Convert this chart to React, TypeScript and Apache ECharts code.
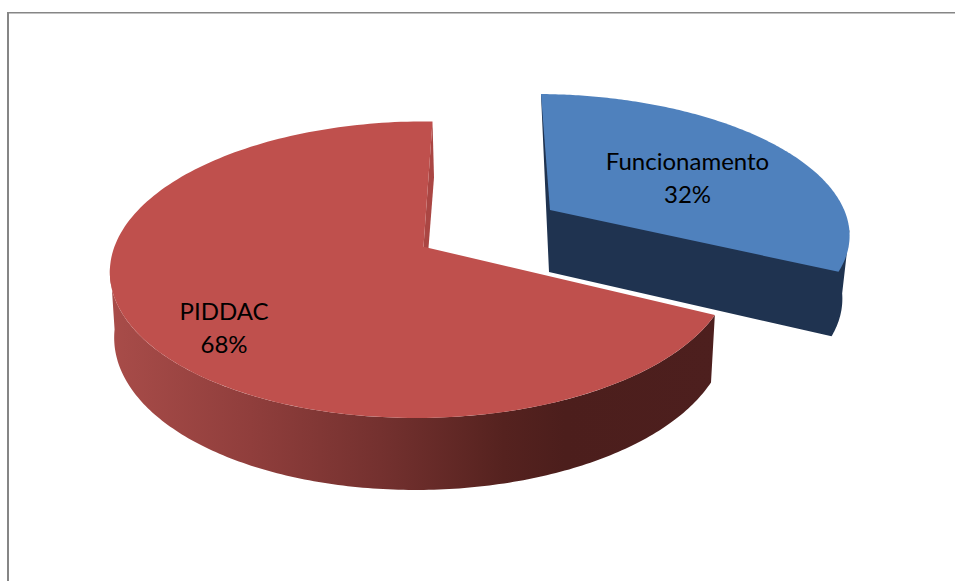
import React, { useEffect, useRef } from "react";
import * as echarts from "echarts";

const categories = ["Funcionamento", "PIDDAC"];
const percentValues = [32, 68];

const TOP_COLORS = ["#4f81bd", "#bf504d"];
const BLUE_WALL = "#1f3350";
const RED_SLIVER = "#aa4643";
const FONT = "Lato, Carlito, Calibri, sans-serif";

// Perspective layout of each exploded slice on the page.
type View = {
  ox: number; oy: number; a: number; b: number; c: number; d: number; p: number; q: number;
  vx: number; k: number; d0: number; d1: number; farShift: number | null;
  labelX: number; labelY: number;
};
const VIEWS: View[] = [
  { ox: 550, oy: 210, a: 295, b: -10.3, c: 132.2, d: 2, p: 0.14, q: 0, vx: 502, k: 0.0208, d0: 62, d1: 6, farShift: null, labelX: 687.5, labelY: 177 },
  { ox: 423.5, oy: 246.7, a: 306.8, b: 10.4, c: 144.7, d: 2.7, p: 0.155, q: 0.004, vx: 430, k: 0.0135, d0: 64, d1: 8, farShift: 1.5, labelX: 224, labelY: 327 },
];

const top = (v: View, t: number): number[] => {
  const X = Math.sin(t), Y = Math.cos(t);
  const w = 1 + v.p * Y + v.q * X;
  return [v.ox + (v.a * X + v.b * Y) / w, v.oy + (-v.c * Y + v.d * X) / w];
};
const bottom = (v: View, t: number): number[] => {
  const [x, y] = top(v, t);
  return [x + (v.vx - x) * v.k, y + v.d0 - v.d1 * Math.cos(t)];
};
const arc = (fn: (t: number) => number[], from: number, to: number): number[][] => {
  const out: number[][] = [];
  const n = 180;
  for (let i = 0; i <= n; i++) out.push(fn(from + ((to - from) * i) / n));
  return out;
};

const renderItem = (params: any, api: any) => {
  const i = params.dataIndex;
  const total = percentValues.reduce((s, x) => s + x, 0);
  const start = (percentValues.slice(0, i).reduce((s, x) => s + x, 0) / total) * Math.PI * 2;
  const end = start + (api.value(0) / total) * Math.PI * 2;
  const v = VIEWS[i];
  const apexT = [v.ox, v.oy];
  const apexB = [v.ox + (v.vx - v.ox) * v.k, v.oy + v.d0];
  const children: any[] = [];
  const poly = (points: number[][], fill: any) =>
    children.push({ type: "polygon", shape: { points }, style: { fill, stroke: "none" } });

  if (i === 0) {
    const farT = top(v, start);
    const from = start + (end - start) * 0.85;
    poly([farT, apexB, ...arc((t) => bottom(v, t), end, from).slice(0, 181), top(v, from)], BLUE_WALL);
  } else {
    const farT = top(v, end);
    const farB = [farT[0] + (v.farShift as number), farT[1] + v.d0 - v.d1];
    poly([farT, farB, apexB, apexT], RED_SLIVER);
    const wallFill = new echarts.graphic.LinearGradient(
      112, 0, 715, 0,
      [
        { offset: 0, color: "#a84c49" },
        { offset: 0.23, color: "#903e3c" },
        { offset: 0.46, color: "#72302e" },
        { offset: 0.65, color: "#55221f" },
        { offset: 0.75, color: "#4c1e1c" },
        { offset: 1, color: "#4d1f1e" },
      ],
      true
    );
    const to = start + (end - start) * 0.6;
    poly([...arc((t) => top(v, t), start, to), ...arc((t) => bottom(v, t), start, to).reverse()], wallFill);
  }
  poly([apexT, ...arc((t) => top(v, t), start, end)], TOP_COLORS[i]);
  children.push({
    type: "text",
    x: v.labelX,
    y: v.labelY,
    style: {
      text: `${categories[i]}\n${api.value(0)}%`,
      fill: "#000000",
      font: `24px ${FONT}`,
      align: "center",
      verticalAlign: "middle",
      lineHeight: 33,
    },
  });
  return { type: "group", children };
};

export default function App() {
  const ref = useRef<HTMLDivElement>(null);
  useEffect(() => {
    const chart = echarts.init(ref.current as HTMLDivElement, undefined, { renderer: "svg" });
    chart.setOption({
      animation: false,
      backgroundColor: "#ffffff",
      graphic: [
        { type: "rect", shape: { x: 7, y: 12, width: 2, height: 569 }, style: { fill: "#868686" } },
        { type: "rect", shape: { x: 7, y: 12, width: 948, height: 1.6 }, style: { fill: "#868686" } },
      ],
      series: [
        {
          type: "custom",
          coordinateSystem: "none",
          renderItem,
          data: categories.map((name, i) => ({ name, value: [percentValues[i]] })),
        },
      ],
    });
    return () => chart.dispose();
  }, []);
  return <div ref={ref} style={{ position: "absolute", left: 0, top: 0, width: 955, height: 581 }} />;
}
